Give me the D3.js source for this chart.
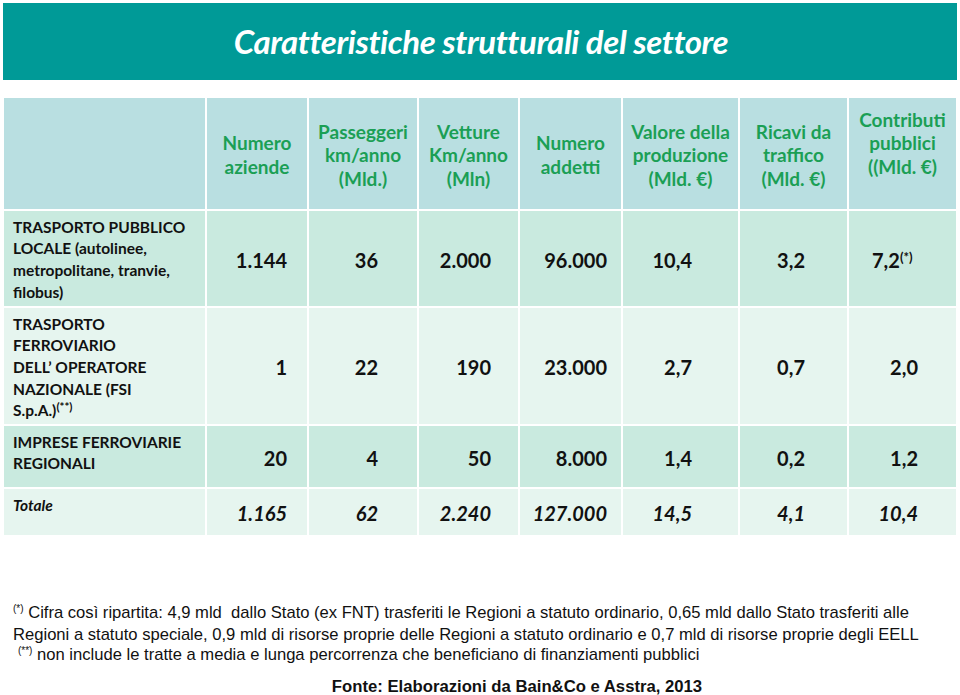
<!DOCTYPE html>
<html>
<head>
<meta charset="utf-8">
<title>Caratteristiche strutturali del settore</title>
<script src="https://d3js.org/d3.v7.min.js"></script>
<style>
  body { margin: 0; background: #fff; }
  svg text { font-family: Lato, "Open Sans", sans-serif; }
  .foot { font-family: "Liberation Sans", Arial, sans-serif; font-size: 16.6px; fill: #111; white-space: pre; }
</style>
</head>
<body>
<svg id="chart"></svg>
<script>
// ---- data ----
const title = "Caratteristiche strutturali del settore";

const headers = [
  [],
  ["Numero", "aziende"],
  ["Passeggeri", "km/anno", "(Mld.)"],
  ["Vetture", "Km/anno", "(Mln)"],
  ["Numero", "addetti"],
  ["Valore della", "produzione", "(Mld. €)"],
  ["Ricavi da", "traffico", "(Mld. €)"],
  ["Contributi", "pubblici", "((Mld. €)", ""]
];

const rowLabels = [
  ["TRASPORTO PUBBLICO", "LOCALE (autolinee,", "metropolitane, tranvie,", "filobus)"],
  ["TRASPORTO", "FERROVIARIO", "DELL\u2019 OPERATORE", "NAZIONALE (FSI", "S.p.A.)|(**)"],
  ["IMPRESE FERROVIARIE", "REGIONALI"],
  ["Totale"]
];

const numeroAziende   = ["1.144", "1", "20", "1.165"];
const passeggeriKm    = ["36", "22", "4", "62"];
const vettureKm       = ["2.000", "190", "50", "2.240"];
const numeroAddetti   = ["96.000", "23.000", "8.000", "127.000"];
const valoreProd      = ["10,4", "2,7", "1,4", "14,5"];
const ricaviTraffico  = ["3,2", "0,7", "0,2", "4,1"];
const contributi      = ["7,2|(*)", "2,0", "1,2", "10,4"];

const series = [numeroAziende, passeggeriKm, vettureKm, numeroAddetti, valoreProd, ricaviTraffico, contributi];

const footnotes = [
  ["(*)", " Cifra così ripartita: 4,9 mld  dallo Stato (ex FNT) trasferiti le Regioni a statuto ordinario, 0,65 mld dallo Stato trasferiti alle"],
  ["", "Regioni a statuto speciale, 0,9 mld di risorse proprie delle Regioni a statuto ordinario e 0,7 mld di risorse proprie degli EELL"],
  ["(**)", " non include le tratte a media e lunga percorrenza che beneficiano di finanziamenti pubblici"]
];
const source = "Fonte: Elaborazioni da Bain&Co e Asstra, 2013";

// ---- layout ----
const width = 960, height = 695;
const colWidths = [203, 102, 110, 101, 103, 117, 109, 109];
const rowHeights = [113, 97, 118, 63, 48];
const valuePad = [21, 40, 28, 15, 47, 43, 39];
const tableLeft = 3, tableTop = 97;

const colEdges = d3.cumsum([tableLeft].concat(colWidths));
const rowEdges = d3.cumsum([tableTop].concat(rowHeights));
const x = d3.scaleOrdinal(d3.range(colEdges.length), colEdges);
const y = d3.scaleOrdinal(d3.range(rowEdges.length), rowEdges);

const headerFill = "#b9dfe1";
const rowFills = ["#c9eadf", "#e6f5ef", "#c9eadf", "#e6f5ef"];
const green = "#1b9f55";

const svg = d3.select("#chart").attr("width", width).attr("height", height);

// title banner
svg.append("rect")
  .attr("x", 3).attr("y", 3).attr("width", 954).attr("height", 77)
  .attr("fill", "#009a97");
svg.append("text")
  .attr("x", 481).attr("y", 54)
  .attr("text-anchor", "middle")
  .attr("fill", "#fff")
  .style("font-size", "33px").style("font-weight", "bold").style("font-style", "italic")
  .style("letter-spacing", "-0.4px")
  .text(title);

// cells
const cells = [];
for (let r = 0; r < 5; r++) {
  for (let c = 0; c < 8; c++) cells.push({ r, c });
}
svg.append("g").selectAll("rect")
  .data(cells)
  .join("rect")
  .attr("x", d => x(d.c))
  .attr("y", d => y(d.r))
  .attr("width", d => x(d.c + 1) - x(d.c))
  .attr("height", d => y(d.r + 1) - y(d.r))
  .attr("fill", d => d.r === 0 ? headerFill : rowFills[d.r - 1])
  .attr("stroke", "#fff")
  .attr("stroke-width", 2);

// header text
const hLine = 23.5;
headers.forEach((lines, c) => {
  const cx = (x(c) + x(c + 1)) / 2;
  const cy = (y(0) + y(1)) / 2 + 2;
  const t = svg.append("text")
    .attr("text-anchor", "middle")
    .attr("fill", green)
    .style("font-size", "19px").style("font-weight", "bold");
  lines.forEach((ln, i) => {
    t.append("tspan")
      .attr("x", cx)
      .attr("y", cy + (i - (lines.length - 1) / 2) * hLine + 6.5)
      .text(ln);
  });
});

// helper for text with superscript (split by "|")
function withSup(sel, str, supSize) {
  const parts = str.split("|");
  sel.append("tspan").text(parts[0]);
  if (parts[1]) {
    sel.append("tspan")
      .attr("dy", "-0.45em")
      .style("font-size", supSize)
      .text(parts[1]);
  }
}

// row labels
const lLine = 21.7;
rowLabels.forEach((lines, r) => {
  const top = y(r + 1) + 17;
  lines.forEach((ln, i) => {
    const t = svg.append("text")
      .attr("x", 13)
      .attr("y", top + i * lLine + 5.5)
      .attr("fill", "#111")
      .style("font-size", "15.5px").style("font-weight", "bold")
      .style("font-style", r === 3 ? "italic" : "normal");
    withSup(t, ln, "11.5px");
  });
});

// values
series.forEach((vals, s) => {
  const c = s + 1;
  vals.forEach((v, r) => {
    const parts = v.split("|");
    const cy = (y(r + 1) + y(r + 2)) / 2 + 2;
    const t = svg.append("text")
      .attr("x", parts[1] ? x(c) + 24 : x(c + 1) - valuePad[s])
      .attr("y", cy + 7)
      .attr("text-anchor", parts[1] ? "start" : "end")
      .attr("fill", "#111")
      .style("font-size", "20px").style("font-weight", "bold")
      .style("font-style", r === 3 ? "italic" : "normal");
    withSup(t, v, "13px");
  });
});

// footnotes
const fy = [612, 634, 654];
footnotes.forEach((f, i) => {
  const t = svg.append("text").attr("class", "foot")
    .attr("x", f[0] === "(**)" ? 18 : 13).attr("y", fy[i] + 6);
  if (f[0]) {
    t.append("tspan").attr("dy", -6).style("font-size", "10px").text(f[0]);
    t.append("tspan").attr("dy", 6).text(f[1]);
  } else {
    t.append("tspan").text(f[1]);
  }
});

svg.append("text").attr("class", "foot")
  .attr("x", 517).attr("y", 692)
  .attr("text-anchor", "middle")
  .style("font-weight", "bold").style("font-size", "16.7px")
  .text(source);
</script>
</body>
</html>
